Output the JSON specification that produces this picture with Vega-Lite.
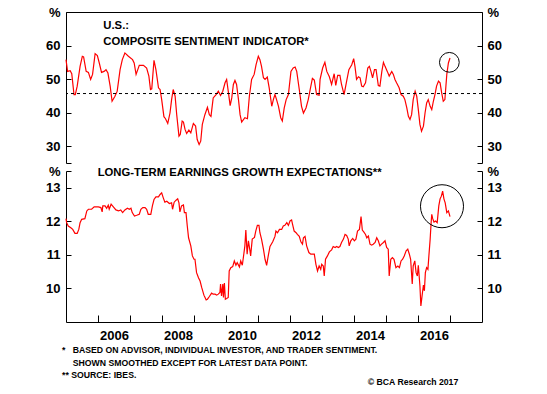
{
  "$schema": "https://vega.github.io/schema/vega-lite/v6.json",
  "background": "white",
  "padding": {"left": 45, "top": 6, "right": 5, "bottom": 5},
  "spacing": 8,
  "bounds": "flush",
  "config": {
    "view": {"stroke": null},
    "font": "Liberation Sans",
    "axis": {"grid": false, "domainColor": "black", "tickColor": "black", "labelColor": "black", "labelFont": "Liberation Sans", "labelFontWeight": "bold", "labelFontSize": 13, "domainWidth": 1, "tickWidth": 1, "labelOverlap": false, "labelFlush": false}
  },
  "datasets": {
    "sentiment": [
      {"t":2005.00,"v":55.8},{"t":2005.05,"v":52.3},{"t":2005.13,"v":52.5},{"t":2005.18,"v":51.6},{"t":2005.25,"v":45.4},{"t":2005.29,"v":45.4},{"t":2005.35,"v":47.9},{"t":2005.44,"v":53.8},{"t":2005.51,"v":56.8},{"t":2005.55,"v":56.6},{"t":2005.63,"v":52.3},{"t":2005.70,"v":52.0},{"t":2005.77,"v":49.9},{"t":2005.83,"v":51.4},{"t":2005.91,"v":57.6},{"t":2005.98,"v":57.0},{"t":2006.04,"v":54.8},{"t":2006.11,"v":52.0},{"t":2006.19,"v":52.3},{"t":2006.25,"v":52.8},{"t":2006.31,"v":51.8},{"t":2006.38,"v":47.9},{"t":2006.44,"v":43.4},{"t":2006.53,"v":44.9},{"t":2006.60,"v":46.4},{"t":2006.69,"v":52.8},{"t":2006.76,"v":55.8},{"t":2006.84,"v":57.8},{"t":2006.95,"v":56.8},{"t":2007.08,"v":55.8},{"t":2007.13,"v":54.8},{"t":2007.19,"v":51.4},{"t":2007.29,"v":54.1},{"t":2007.42,"v":54.1},{"t":2007.52,"v":53.3},{"t":2007.59,"v":50.9},{"t":2007.64,"v":46.9},{"t":2007.68,"v":47.1},{"t":2007.75,"v":55.6},{"t":2007.81,"v":52.8},{"t":2007.89,"v":47.4},{"t":2007.94,"v":46.9},{"t":2007.99,"v":43.9},{"t":2008.06,"v":38.8},{"t":2008.11,"v":38.2},{"t":2008.18,"v":36.8},{"t":2008.25,"v":39.9},{"t":2008.30,"v":43.9},{"t":2008.35,"v":46.9},{"t":2008.41,"v":44.9},{"t":2008.46,"v":39.4},{"t":2008.53,"v":33.0},{"t":2008.57,"v":33.5},{"t":2008.63,"v":37.5},{"t":2008.67,"v":37.2},{"t":2008.72,"v":35.0},{"t":2008.77,"v":33.8},{"t":2008.84,"v":34.8},{"t":2008.90,"v":34.0},{"t":2008.98,"v":36.8},{"t":2009.05,"v":36.0},{"t":2009.10,"v":32.0},{"t":2009.16,"v":30.5},{"t":2009.21,"v":31.5},{"t":2009.26,"v":36.5},{"t":2009.34,"v":39.4},{"t":2009.42,"v":41.6},{"t":2009.48,"v":39.4},{"t":2009.53,"v":38.9},{"t":2009.60,"v":44.4},{"t":2009.69,"v":45.4},{"t":2009.76,"v":46.4},{"t":2009.83,"v":45.1},{"t":2009.90,"v":46.4},{"t":2009.97,"v":48.9},{"t":2010.02,"v":49.9},{"t":2010.07,"v":46.4},{"t":2010.13,"v":42.1},{"t":2010.18,"v":44.4},{"t":2010.23,"v":48.4},{"t":2010.28,"v":49.6},{"t":2010.33,"v":48.4},{"t":2010.39,"v":43.9},{"t":2010.44,"v":39.4},{"t":2010.49,"v":37.2},{"t":2010.59,"v":38.5},{"t":2010.67,"v":38.2},{"t":2010.73,"v":44.9},{"t":2010.80,"v":49.9},{"t":2010.88,"v":51.4},{"t":2010.94,"v":54.3},{"t":2011.01,"v":56.8},{"t":2011.06,"v":55.8},{"t":2011.11,"v":53.8},{"t":2011.17,"v":50.4},{"t":2011.22,"v":49.9},{"t":2011.29,"v":50.6},{"t":2011.35,"v":47.4},{"t":2011.43,"v":41.9},{"t":2011.48,"v":43.9},{"t":2011.53,"v":45.4},{"t":2011.58,"v":43.9},{"t":2011.64,"v":41.9},{"t":2011.71,"v":38.5},{"t":2011.76,"v":37.5},{"t":2011.82,"v":41.4},{"t":2011.88,"v":43.9},{"t":2011.95,"v":45.4},{"t":2012.03,"v":52.3},{"t":2012.10,"v":53.3},{"t":2012.16,"v":53.6},{"t":2012.21,"v":52.3},{"t":2012.29,"v":46.9},{"t":2012.36,"v":41.9},{"t":2012.42,"v":39.9},{"t":2012.50,"v":41.4},{"t":2012.57,"v":43.9},{"t":2012.63,"v":46.9},{"t":2012.70,"v":50.2},{"t":2012.76,"v":49.7},{"t":2012.83,"v":45.4},{"t":2012.91,"v":45.2},{"t":2012.94,"v":49.9},{"t":2013.02,"v":53.3},{"t":2013.09,"v":55.0},{"t":2013.15,"v":52.3},{"t":2013.23,"v":50.7},{"t":2013.30,"v":48.4},{"t":2013.38,"v":51.6},{"t":2013.43,"v":48.1},{"t":2013.49,"v":51.1},{"t":2013.56,"v":51.1},{"t":2013.61,"v":48.4},{"t":2013.69,"v":45.4},{"t":2013.77,"v":49.4},{"t":2013.84,"v":52.8},{"t":2013.93,"v":54.3},{"t":2013.99,"v":56.1},{"t":2014.03,"v":53.8},{"t":2014.08,"v":49.9},{"t":2014.14,"v":50.7},{"t":2014.19,"v":50.4},{"t":2014.24,"v":47.9},{"t":2014.29,"v":47.7},{"t":2014.36,"v":48.9},{"t":2014.43,"v":53.3},{"t":2014.48,"v":53.8},{"t":2014.53,"v":52.3},{"t":2014.58,"v":50.4},{"t":2014.64,"v":52.8},{"t":2014.69,"v":52.8},{"t":2014.76,"v":48.1},{"t":2014.81,"v":47.9},{"t":2014.87,"v":52.3},{"t":2014.92,"v":55.0},{"t":2014.97,"v":53.8},{"t":2015.04,"v":52.3},{"t":2015.10,"v":50.9},{"t":2015.18,"v":52.3},{"t":2015.23,"v":51.4},{"t":2015.28,"v":49.9},{"t":2015.33,"v":48.9},{"t":2015.41,"v":47.4},{"t":2015.47,"v":45.4},{"t":2015.54,"v":44.9},{"t":2015.59,"v":43.9},{"t":2015.65,"v":41.4},{"t":2015.70,"v":38.9},{"t":2015.75,"v":38.0},{"t":2015.80,"v":39.4},{"t":2015.85,"v":43.9},{"t":2015.91,"v":46.4},{"t":2015.96,"v":44.9},{"t":2016.01,"v":40.9},{"t":2016.06,"v":36.5},{"t":2016.11,"v":34.5},{"t":2016.17,"v":36.0},{"t":2016.22,"v":39.9},{"t":2016.27,"v":42.9},{"t":2016.32,"v":43.9},{"t":2016.38,"v":41.9},{"t":2016.43,"v":40.9},{"t":2016.48,"v":43.4},{"t":2016.53,"v":45.4},{"t":2016.58,"v":47.9},{"t":2016.64,"v":49.4},{"t":2016.69,"v":48.9},{"t":2016.74,"v":45.9},{"t":2016.79,"v":43.4},{"t":2016.84,"v":43.9},{"t":2016.90,"v":51.4},{"t":2016.95,"v":54.8},{"t":2017.00,"v":56.3}
    ],
    "earnings": [
      {"t":2005.00,"v":12.08},{"t":2005.02,"v":11.96},{"t":2005.07,"v":11.86},{"t":2005.15,"v":11.81},{"t":2005.21,"v":11.76},{"t":2005.28,"v":11.64},{"t":2005.35,"v":11.64},{"t":2005.40,"v":11.76},{"t":2005.44,"v":11.96},{"t":2005.49,"v":12.06},{"t":2005.59,"v":12.08},{"t":2005.65,"v":12.31},{"t":2005.70,"v":12.36},{"t":2005.80,"v":12.36},{"t":2005.88,"v":12.43},{"t":2006.01,"v":12.43},{"t":2006.09,"v":12.41},{"t":2006.13,"v":12.28},{"t":2006.15,"v":12.46},{"t":2006.22,"v":12.46},{"t":2006.27,"v":12.39},{"t":2006.32,"v":12.48},{"t":2006.35,"v":12.36},{"t":2006.41,"v":12.51},{"t":2006.48,"v":12.43},{"t":2006.56,"v":12.34},{"t":2006.64,"v":12.31},{"t":2006.71,"v":12.34},{"t":2006.77,"v":12.26},{"t":2006.84,"v":12.34},{"t":2006.92,"v":12.39},{"t":2006.98,"v":12.36},{"t":2007.03,"v":12.39},{"t":2007.07,"v":12.26},{"t":2007.14,"v":12.16},{"t":2007.21,"v":12.18},{"t":2007.29,"v":12.21},{"t":2007.34,"v":12.36},{"t":2007.40,"v":12.41},{"t":2007.47,"v":12.41},{"t":2007.52,"v":12.36},{"t":2007.57,"v":12.21},{"t":2007.65,"v":12.21},{"t":2007.70,"v":12.46},{"t":2007.75,"v":12.65},{"t":2007.81,"v":12.73},{"t":2007.89,"v":12.73},{"t":2007.94,"v":12.80},{"t":2007.99,"v":12.85},{"t":2008.04,"v":12.70},{"t":2008.09,"v":12.57},{"t":2008.15,"v":12.60},{"t":2008.23,"v":12.53},{"t":2008.30,"v":12.55},{"t":2008.33,"v":12.36},{"t":2008.38,"v":12.57},{"t":2008.44,"v":12.63},{"t":2008.49,"v":12.67},{"t":2008.53,"v":12.55},{"t":2008.56,"v":12.28},{"t":2008.61,"v":12.46},{"t":2008.67,"v":12.49},{"t":2008.70,"v":12.26},{"t":2008.75,"v":12.26},{"t":2008.79,"v":11.86},{"t":2008.83,"v":11.51},{"t":2008.90,"v":11.27},{"t":2008.95,"v":10.97},{"t":2009.00,"v":10.87},{"t":2009.03,"v":10.87},{"t":2009.08,"v":10.47},{"t":2009.14,"v":10.32},{"t":2009.19,"v":10.22},{"t":2009.24,"v":10.03},{"t":2009.31,"v":9.80},{"t":2009.38,"v":9.66},{"t":2009.42,"v":9.68},{"t":2009.48,"v":9.76},{"t":2009.55,"v":9.86},{"t":2009.60,"v":9.83},{"t":2009.66,"v":9.83},{"t":2009.71,"v":9.80},{"t":2009.76,"v":9.83},{"t":2009.81,"v":9.88},{"t":2009.83,"v":10.13},{"t":2009.86,"v":9.78},{"t":2009.90,"v":10.13},{"t":2009.92,"v":9.73},{"t":2009.95,"v":10.16},{"t":2009.98,"v":9.68},{"t":2010.02,"v":9.70},{"t":2010.07,"v":9.73},{"t":2010.10,"v":10.52},{"t":2010.15,"v":10.62},{"t":2010.21,"v":10.65},{"t":2010.26,"v":10.82},{"t":2010.31,"v":10.69},{"t":2010.35,"v":10.77},{"t":2010.42,"v":10.64},{"t":2010.46,"v":10.82},{"t":2010.51,"v":10.69},{"t":2010.56,"v":11.05},{"t":2010.59,"v":11.27},{"t":2010.62,"v":11.74},{"t":2010.66,"v":11.02},{"t":2010.70,"v":11.42},{"t":2010.75,"v":11.12},{"t":2010.77,"v":10.97},{"t":2010.82,"v":11.47},{"t":2010.89,"v":11.52},{"t":2010.93,"v":11.71},{"t":2010.98,"v":11.88},{"t":2011.03,"v":11.88},{"t":2011.06,"v":11.66},{"t":2011.11,"v":11.47},{"t":2011.17,"v":11.17},{"t":2011.22,"v":10.87},{"t":2011.27,"v":10.69},{"t":2011.32,"v":10.97},{"t":2011.375,"v":11.25},{"t":2011.46,"v":11.39},{"t":2011.53,"v":11.55},{"t":2011.56,"v":11.71},{"t":2011.61,"v":11.66},{"t":2011.67,"v":11.76},{"t":2011.74,"v":11.76},{"t":2011.79,"v":11.86},{"t":2011.84,"v":11.88},{"t":2011.90,"v":11.96},{"t":2011.95,"v":11.88},{"t":2012.00,"v":12.01},{"t":2012.05,"v":12.04},{"t":2012.08,"v":11.91},{"t":2012.13,"v":11.71},{"t":2012.19,"v":11.66},{"t":2012.23,"v":11.61},{"t":2012.29,"v":11.55},{"t":2012.34,"v":11.39},{"t":2012.39,"v":11.32},{"t":2012.42,"v":11.51},{"t":2012.47,"v":11.55},{"t":2012.52,"v":11.27},{"t":2012.59,"v":11.07},{"t":2012.65,"v":11.02},{"t":2012.71,"v":11.02},{"t":2012.76,"v":11.02},{"t":2012.81,"v":10.72},{"t":2012.86,"v":10.52},{"t":2012.91,"v":10.67},{"t":2012.96,"v":10.57},{"t":2012.99,"v":10.72},{"t":2013.04,"v":10.67},{"t":2013.07,"v":10.37},{"t":2013.11,"v":10.87},{"t":2013.17,"v":10.97},{"t":2013.23,"v":11.09},{"t":2013.30,"v":11.15},{"t":2013.35,"v":11.25},{"t":2013.41,"v":11.22},{"t":2013.46,"v":11.25},{"t":2013.51,"v":11.22},{"t":2013.56,"v":11.25},{"t":2013.61,"v":11.37},{"t":2013.67,"v":11.47},{"t":2013.72,"v":11.61},{"t":2013.77,"v":11.58},{"t":2013.82,"v":11.47},{"t":2013.85,"v":11.27},{"t":2013.90,"v":11.42},{"t":2013.96,"v":11.49},{"t":2014.01,"v":11.42},{"t":2014.06,"v":11.47},{"t":2014.11,"v":11.71},{"t":2014.17,"v":11.76},{"t":2014.22,"v":12.14},{"t":2014.26,"v":11.74},{"t":2014.31,"v":11.68},{"t":2014.36,"v":11.61},{"t":2014.40,"v":11.51},{"t":2014.45,"v":11.56},{"t":2014.50,"v":11.32},{"t":2014.55,"v":11.29},{"t":2014.60,"v":11.32},{"t":2014.66,"v":11.37},{"t":2014.71,"v":11.51},{"t":2014.76,"v":11.42},{"t":2014.81,"v":11.27},{"t":2014.86,"v":11.32},{"t":2014.92,"v":11.37},{"t":2014.97,"v":11.42},{"t":2015.02,"v":11.22},{"t":2015.07,"v":11.17},{"t":2015.10,"v":10.37},{"t":2015.15,"v":10.87},{"t":2015.20,"v":10.92},{"t":2015.25,"v":10.87},{"t":2015.31,"v":10.62},{"t":2015.37,"v":10.67},{"t":2015.42,"v":10.62},{"t":2015.47,"v":10.82},{"t":2015.52,"v":10.87},{"t":2015.57,"v":10.97},{"t":2015.63,"v":11.12},{"t":2015.68,"v":11.17},{"t":2015.73,"v":11.02},{"t":2015.77,"v":10.87},{"t":2015.82,"v":10.13},{"t":2015.85,"v":10.67},{"t":2015.90,"v":10.82},{"t":2015.94,"v":10.47},{"t":2015.98,"v":10.37},{"t":2016.01,"v":10.69},{"t":2016.06,"v":10.08},{"t":2016.09,"v":9.48},{"t":2016.14,"v":9.88},{"t":2016.17,"v":10.10},{"t":2016.20,"v":9.93},{"t":2016.23,"v":10.47},{"t":2016.27,"v":10.62},{"t":2016.31,"v":10.57},{"t":2016.34,"v":10.97},{"t":2016.38,"v":11.47},{"t":2016.41,"v":11.96},{"t":2016.43,"v":12.21},{"t":2016.46,"v":12.08},{"t":2016.50,"v":11.98},{"t":2016.55,"v":12.01},{"t":2016.60,"v":11.96},{"t":2016.65,"v":12.46},{"t":2016.69,"v":12.67},{"t":2016.73,"v":12.75},{"t":2016.77,"v":12.90},{"t":2016.81,"v":12.67},{"t":2016.85,"v":12.55},{"t":2016.90,"v":12.26},{"t":2016.95,"v":12.31},{"t":2017.00,"v":12.14}
    ]
  },
  "vconcat": [
    {
      "width": 416,
      "height": 151,
      "resolve": {"axis": {"x": "independent", "y": "independent"}},
      "layer": [
        {
          "data": {"name": "sentiment"},
          "mark": {"type": "line", "color": "#ff0000", "strokeWidth": 1.2},
          "encoding": {
            "x": {"field": "t", "type": "quantitative", "scale": {"domain": [2005, 2018], "nice": false, "zero": false}, "axis": {"orient": "top", "labels": false, "ticks": false, "title": null}},
            "y": {"field": "v", "type": "quantitative", "scale": {"domain": [25, 70], "nice": false, "zero": false}, "axis": {"orient": "left", "values": [25, 30, 40, 50, 60, 70], "labelExpr": "datum.value == 70 ? '%' : datum.value == 25 ? '' : datum.label", "tickSize": -5, "labelPadding": 11, "title": null}}
          }
        },
        {
          "data": {"values": [{}]},
          "mark": {"type": "rule", "color": "black", "strokeDash": [3, 3], "strokeWidth": 1},
          "encoding": {"y": {"datum": 45.7, "type": "quantitative", "axis": null}}
        },
        {
          "data": {"values": [{}]},
          "mark": {"type": "point", "shape": "circle", "filled": false, "color": "black", "size": 390, "strokeWidth": 1, "opacity": 1},
          "encoding": {
            "x": {"datum": 2016.98, "type": "quantitative", "axis": null},
            "y": {"datum": 55, "type": "quantitative", "axis": {"orient": "right", "values": [25, 30, 40, 50, 60, 70], "labelExpr": "datum.value == 70 ? '%' : datum.value == 25 ? '' : datum.label", "tickSize": -5, "labelPadding": 10, "title": null}}
          }
        },
        {
          "data": {"values": [{}]},
          "mark": {"type": "text", "text": ["U.S.:", "COMPOSITE SENTIMENT INDICATOR*"], "align": "left", "baseline": "alphabetic", "font": "Liberation Sans", "fontWeight": "bold", "fontSize": 11.3, "lineHeight": 16, "color": "black"},
          "encoding": {
            "x": {"datum": 2006.166, "type": "quantitative", "axis": null},
            "y": {"datum": 64.9, "type": "quantitative", "axis": null}
          }
        }
      ]
    },
    {
      "width": 416,
      "height": 151,
      "resolve": {"axis": {"x": "independent", "y": "independent"}},
      "layer": [
        {
          "data": {"name": "earnings"},
          "mark": {"type": "line", "color": "#ff0000", "strokeWidth": 1.2},
          "encoding": {
            "x": {"field": "t", "type": "quantitative", "scale": {"domain": [2005, 2018], "nice": false, "zero": false}, "axis": {"orient": "bottom", "values": [2006, 2007, 2008, 2009, 2010, 2011, 2012, 2013, 2014, 2015, 2016, 2017], "format": "d", "labelExpr": "datum.value % 2 == 0 ? datum.label : ''", "labelOffset": 16, "tickSize": -7, "labelPadding": 14, "title": null}},
            "y": {"field": "v", "type": "quantitative", "scale": {"domain": [9, 13.5], "nice": false, "zero": false}, "axis": {"orient": "left", "values": [10, 11, 12, 13, 13.5], "labelExpr": "datum.value == 13.5 ? '%' : datum.label", "tickSize": -5, "labelPadding": 11, "title": null}}
          }
        },
        {
          "data": {"values": [{}]},
          "mark": {"type": "point", "shape": "circle", "filled": false, "color": "black", "size": 1850, "strokeWidth": 1, "opacity": 1},
          "encoding": {
            "x": {"datum": 2016.75, "type": "quantitative", "axis": null},
            "y": {"datum": 12.45, "type": "quantitative", "axis": {"orient": "right", "values": [10, 11, 12, 13, 13.5], "labelExpr": "datum.value == 13.5 ? '%' : datum.label", "tickSize": -5, "labelPadding": 10, "title": null}}
          }
        },
        {
          "data": {"values": [{}]},
          "mark": {"type": "text", "text": "LONG-TERM EARNINGS GROWTH EXPECTATIONS**", "align": "left", "baseline": "alphabetic", "font": "Liberation Sans", "fontWeight": "bold", "fontSize": 11.3, "color": "black"},
          "encoding": {
            "x": {"datum": 2005.99, "type": "quantitative", "axis": null},
            "y": {"datum": 13.34, "type": "quantitative", "axis": null}
          }
        },
        {
          "data": {"values": [{}]},
          "mark": {"type": "text", "text": "*", "align": "left", "baseline": "alphabetic", "font": "Liberation Sans", "fontWeight": "bold", "fontSize": 8.7, "color": "black"},
          "encoding": {
            "x": {"datum": 2004.875, "type": "quantitative", "axis": null},
            "y": {"datum": 8.067, "type": "quantitative", "axis": null}
          }
        },
        {
          "data": {"values": [{}]},
          "mark": {"type": "text", "text": ["BASED ON ADVISOR, INDIVIDUAL INVESTOR, AND TRADER SENTIMENT.", "SHOWN SMOOTHED EXCEPT FOR LATEST DATA POINT."], "align": "left", "baseline": "alphabetic", "font": "Liberation Sans", "fontWeight": "bold", "fontSize": 8.7, "lineHeight": 12.7, "color": "black"},
          "encoding": {
            "x": {"datum": 2005.209, "type": "quantitative", "axis": null},
            "y": {"datum": 8.067, "type": "quantitative", "axis": null}
          }
        },
        {
          "data": {"values": [{}]},
          "mark": {"type": "text", "text": "** SOURCE: IBES.", "align": "left", "baseline": "alphabetic", "font": "Liberation Sans", "fontWeight": "bold", "fontSize": 8.7, "color": "black"},
          "encoding": {
            "x": {"datum": 2004.875, "type": "quantitative", "axis": null},
            "y": {"datum": 7.339, "type": "quantitative", "axis": null}
          }
        },
        {
          "data": {"values": [{}]},
          "mark": {"type": "text", "text": "© BCA Research 2017", "align": "right", "baseline": "alphabetic", "font": "Liberation Sans", "fontWeight": "bold", "fontSize": 8.7, "color": "black"},
          "encoding": {
            "x": {"datum": 2017.259, "type": "quantitative", "axis": null},
            "y": {"datum": 7.121, "type": "quantitative", "axis": null}
          }
        }
      ]
    }
  ]
}
